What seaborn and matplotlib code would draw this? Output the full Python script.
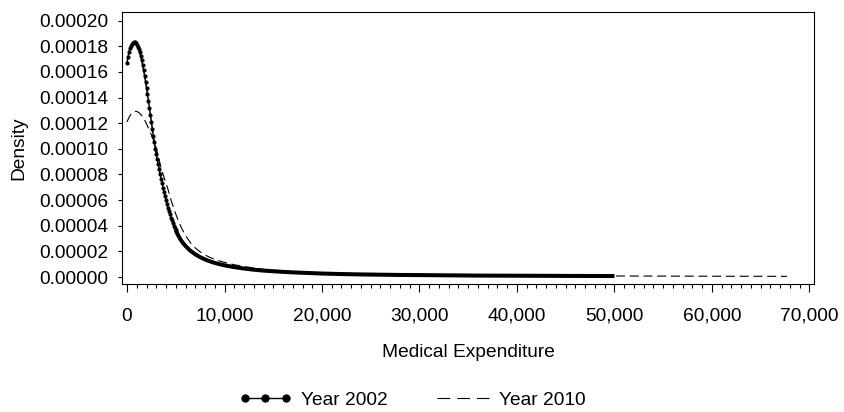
import numpy as np
import pandas as pd
import matplotlib
matplotlib.use("Agg")
import matplotlib.pyplot as plt
from matplotlib.lines import Line2D
from matplotlib.legend_handler import HandlerLine2D
from matplotlib.ticker import FuncFormatter, MultipleLocator
import seaborn as sns

# ---- data (density values in units of 1e-5) ----
x_2002_head = [0, 100, 200, 300, 400, 500, 600, 700, 800, 900,
               1000, 1100, 1200, 1300, 1400, 1500, 1600, 1700, 1800, 1900,
               2000, 2100, 2200, 2300, 2400, 2500, 2600, 2700, 2800, 2900,
               3000, 3100, 3200, 3300, 3400, 3500, 3600, 3700, 3800, 3900,
               4000, 4100, 4200, 4300, 4400, 4500, 4600, 4700, 4800, 4900, 5000]
y_2002_head = [16.70, 17.15, 17.55, 17.85, 18.05, 18.18, 18.26, 18.30, 18.30, 18.24,
               18.12, 17.96, 17.76, 17.52, 17.24, 16.92, 16.56, 16.16, 15.72, 15.25,
               14.76, 14.25, 13.72, 13.18, 12.64, 12.10, 11.56, 11.03, 10.52, 10.02,
               9.62, 9.20, 8.80, 8.42, 8.05, 7.68, 7.32, 6.96, 6.62, 6.30,
               5.98, 5.68, 5.40, 5.13, 4.88, 4.64, 4.42, 4.21, 4.01, 3.82, 3.64]
x_2002_tail = [5000, 5200, 5400, 5600, 5800, 6000, 6500, 7000, 7500, 8000, 8500,
               9000, 9500, 10000, 11000, 12000, 13000, 14000, 15000, 16000, 17000,
               18000, 19000, 20000, 22000, 24000, 26000, 28000, 30000, 33000,
               36000, 40000, 45000, 50000]
y_2002_tail = [3.64, 3.32, 3.04, 2.80, 2.60, 2.42, 2.05, 1.77, 1.55, 1.37, 1.22,
               1.10, 1.00, 0.91, 0.77, 0.66, 0.57, 0.50, 0.45, 0.40, 0.36,
               0.33, 0.30, 0.27, 0.23, 0.20, 0.18, 0.16, 0.15, 0.13,
               0.11, 0.10, 0.085, 0.075]

x_2010 = [0, 200, 400, 600, 800, 1000, 1200, 1400, 1600, 1800,
          2000, 2200, 2400, 2600, 2800, 3000, 3200, 3400, 3600, 3800,
          4000, 4200, 4400, 4600, 4800, 5000, 5200, 5400, 5600, 5800,
          6000, 6500, 7000, 7500, 8000, 8500, 9000, 9500, 10000, 11000,
          12000, 13000, 14000, 15000, 17000, 20000, 23000, 26000, 30000, 35000,
          40000, 45000, 50000, 55000, 60000, 65000, 67700]
y_2010 = [12.10, 12.45, 12.70, 12.86, 12.93, 12.92, 12.84, 12.70, 12.50, 12.25,
          11.95, 11.62, 11.27, 10.90, 10.50, 10.05, 9.45, 8.80, 8.25, 7.78,
          7.32, 6.85, 6.30, 5.80, 5.35, 4.92, 4.52, 4.15, 3.82, 3.52,
          3.24, 2.68, 2.27, 1.96, 1.72, 1.53, 1.38, 1.25, 1.14, 0.96,
          0.82, 0.70, 0.60, 0.52, 0.42, 0.33, 0.27, 0.22, 0.17, 0.13,
          0.11, 0.09, 0.08, 0.07, 0.06, 0.055, 0.05]

labels = ["Year 2002", "Year 2010"]
x_label = "Medical Expenditure"
y_label = "Density"

SCALE = 1e-5
df_head = pd.DataFrame({"x": x_2002_head, "y": np.array(y_2002_head) * SCALE})
df_tail = pd.DataFrame({"x": x_2002_tail, "y": np.array(y_2002_tail) * SCALE})
df_2010 = pd.DataFrame({"x": x_2010, "y": np.array(y_2010) * SCALE})

sns.set_theme(style="white")
plt.rcParams["font.family"] = ["Liberation Sans", "DejaVu Sans"]
plt.rcParams["lines.scale_dashes"] = False
FS = 13.8

fig = plt.figure(figsize=(8.44, 4.12), dpi=100)
ax = fig.add_axes([122 / 844, 1 - 284 / 412, (814 - 122) / 844, (284 - 12) / 412])

sns.lineplot(data=df_2010, x="x", y="y", ax=ax, color="black", lw=0.8,
             linestyle=(0, (6.5, 3.4)), estimator=None, sort=False)
sns.lineplot(data=df_tail, x="x", y="y", ax=ax, color="black", lw=2.9,
             estimator=None, sort=False, solid_capstyle="butt")
sns.lineplot(data=df_head, x="x", y="y", ax=ax, color="black", lw=1.1,
             marker="o", ms=3.0, mec="black", mfc="black", mew=0,
             estimator=None, sort=False)

ax.set_xlim(-513, 70462)
ax.set_ylim(-5.46e-6, 2.068e-4)

ax.xaxis.set_major_locator(MultipleLocator(10000))
ax.xaxis.set_minor_locator(MultipleLocator(1000))
ax.yaxis.set_major_locator(MultipleLocator(2e-5))
ax.xaxis.set_major_formatter(FuncFormatter(lambda v, p: f"{v:,.0f}"))
ax.yaxis.set_major_formatter(FuncFormatter(lambda v, p: f"{v:.5f}"))

ax.tick_params(axis="x", which="major", direction="out", length=6, width=0.8,
               color="black", labelsize=FS, pad=11, bottom=True, labelcolor="black")
ax.tick_params(axis="x", which="minor", direction="out", length=3, width=0.8,
               color="black", bottom=True)
ax.tick_params(axis="y", which="major", direction="out", length=3, width=0.8,
               color="black", labelsize=FS, pad=7, left=True, labelcolor="black")

for s in ax.spines.values():
    s.set_color("black")
    s.set_linewidth(0.8)

ax.set_xlabel(x_label, fontsize=FS, color="black")
ax.set_ylabel(y_label, fontsize=FS, color="black")
ax.xaxis.set_label_coords(0.5, (284 - 344) / 272)
ax.yaxis.set_label_coords((27 - 122) / 692, 0.5)

h2002 = Line2D([], [], color="black", lw=1.0, marker="o", ms=6, mew=0)
h2010 = Line2D([], [], color="black", lw=0.8, linestyle=(0, (9.2, 5.0)))
fig.legend([h2002, h2010], labels, loc="center",
           bbox_to_anchor=(412.5 / 844, 1 - 400 / 412),
           ncol=2, frameon=False, fontsize=FS, numpoints=3, handlelength=2.7,
           handletextpad=0.5, columnspacing=2.6, borderpad=0, labelcolor="black",
           handler_map={h2010: HandlerLine2D(numpoints=1)})

fig.savefig("out.png", dpi=100, facecolor="white")
